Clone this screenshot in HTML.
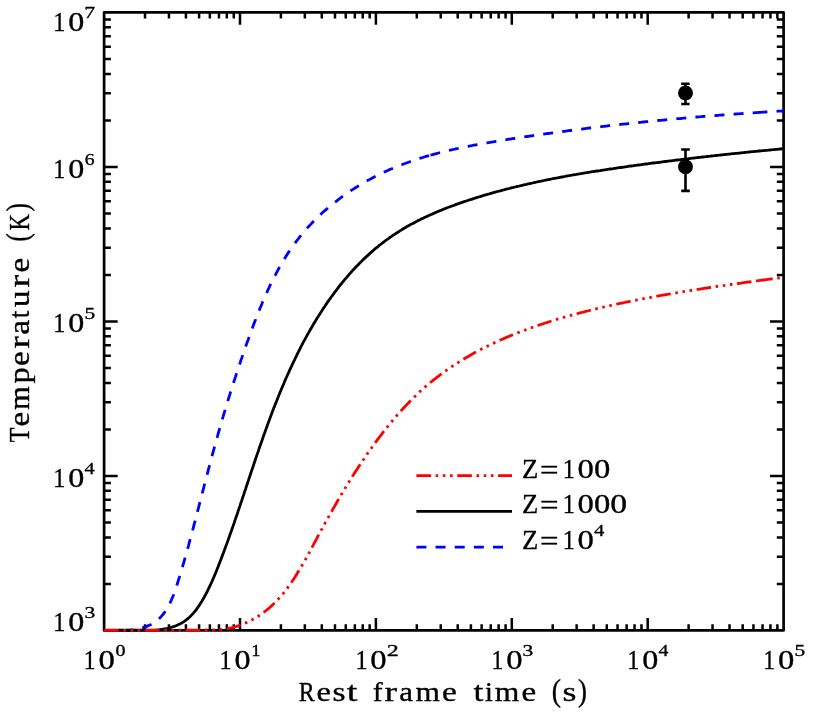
<!DOCTYPE html>
<html><head><meta charset="utf-8"><title>Temperature vs rest frame time</title>
<style>html,body{margin:0;padding:0;background:#fff}svg{display:block;will-change:transform}text{font-family:"Liberation Serif",serif;fill:#000;white-space:pre;stroke:#000;stroke-width:0.35px;stroke-linejoin:round}</style></head><body>
<svg width="814" height="719" viewBox="0 0 814 719">
<desc>Log-log plot of Temperature (K) versus Rest frame time (s) for Z=100 (red dash-dot-dot-dot), Z=1000 (black solid) and Z=10^4 (blue dashed), with two data points with error bars.</desc>
<rect x="0" y="0" width="814" height="719" fill="#fff"/>
<path d="M145.01 630.4v-6.2M145.01 12.4v6.2M168.94 630.4v-6.2M168.94 12.4v6.2M185.92 630.4v-6.2M185.92 12.4v6.2M199.09 630.4v-6.2M199.09 12.4v6.2M209.85 630.4v-6.2M209.85 12.4v6.2M218.95 630.4v-6.2M218.95 12.4v6.2M226.83 630.4v-6.2M226.83 12.4v6.2M233.78 630.4v-6.2M233.78 12.4v6.2M240.00 630.4v-12.4M240.00 12.4v12.4M280.91 630.4v-6.2M280.91 12.4v6.2M304.84 630.4v-6.2M304.84 12.4v6.2M321.82 630.4v-6.2M321.82 12.4v6.2M334.99 630.4v-6.2M334.99 12.4v6.2M345.75 630.4v-6.2M345.75 12.4v6.2M354.85 630.4v-6.2M354.85 12.4v6.2M362.73 630.4v-6.2M362.73 12.4v6.2M369.68 630.4v-6.2M369.68 12.4v6.2M375.90 630.4v-12.4M375.90 12.4v12.4M416.81 630.4v-6.2M416.81 12.4v6.2M440.74 630.4v-6.2M440.74 12.4v6.2M457.72 630.4v-6.2M457.72 12.4v6.2M470.89 630.4v-6.2M470.89 12.4v6.2M481.65 630.4v-6.2M481.65 12.4v6.2M490.75 630.4v-6.2M490.75 12.4v6.2M498.63 630.4v-6.2M498.63 12.4v6.2M505.58 630.4v-6.2M505.58 12.4v6.2M511.80 630.4v-12.4M511.80 12.4v12.4M552.71 630.4v-6.2M552.71 12.4v6.2M576.64 630.4v-6.2M576.64 12.4v6.2M593.62 630.4v-6.2M593.62 12.4v6.2M606.79 630.4v-6.2M606.79 12.4v6.2M617.55 630.4v-6.2M617.55 12.4v6.2M626.65 630.4v-6.2M626.65 12.4v6.2M634.53 630.4v-6.2M634.53 12.4v6.2M641.48 630.4v-6.2M641.48 12.4v6.2M647.70 630.4v-12.4M647.70 12.4v12.4M688.61 630.4v-6.2M688.61 12.4v6.2M712.54 630.4v-6.2M712.54 12.4v6.2M729.52 630.4v-6.2M729.52 12.4v6.2M742.69 630.4v-6.2M742.69 12.4v6.2M753.45 630.4v-6.2M753.45 12.4v6.2M762.55 630.4v-6.2M762.55 12.4v6.2M770.43 630.4v-6.2M770.43 12.4v6.2M777.38 630.4v-6.2M777.38 12.4v6.2M104.1 583.89h6.8M783.6 583.89h-6.8M104.1 556.68h6.8M783.6 556.68h-6.8M104.1 537.38h6.8M783.6 537.38h-6.8M104.1 522.41h6.8M783.6 522.41h-6.8M104.1 510.18h6.8M783.6 510.18h-6.8M104.1 499.83h6.8M783.6 499.83h-6.8M104.1 490.87h6.8M783.6 490.87h-6.8M104.1 482.97h6.8M783.6 482.97h-6.8M104.1 475.90h13.6M783.6 475.90h-13.6M104.1 429.39h6.8M783.6 429.39h-6.8M104.1 402.18h6.8M783.6 402.18h-6.8M104.1 382.88h6.8M783.6 382.88h-6.8M104.1 367.91h6.8M783.6 367.91h-6.8M104.1 355.68h6.8M783.6 355.68h-6.8M104.1 345.33h6.8M783.6 345.33h-6.8M104.1 336.37h6.8M783.6 336.37h-6.8M104.1 328.47h6.8M783.6 328.47h-6.8M104.1 321.40h13.6M783.6 321.40h-13.6M104.1 274.89h6.8M783.6 274.89h-6.8M104.1 247.68h6.8M783.6 247.68h-6.8M104.1 228.38h6.8M783.6 228.38h-6.8M104.1 213.41h6.8M783.6 213.41h-6.8M104.1 201.18h6.8M783.6 201.18h-6.8M104.1 190.83h6.8M783.6 190.83h-6.8M104.1 181.87h6.8M783.6 181.87h-6.8M104.1 173.97h6.8M783.6 173.97h-6.8M104.1 166.90h13.6M783.6 166.90h-13.6M104.1 120.39h6.8M783.6 120.39h-6.8M104.1 93.18h6.8M783.6 93.18h-6.8M104.1 73.88h6.8M783.6 73.88h-6.8M104.1 58.91h6.8M783.6 58.91h-6.8M104.1 46.68h6.8M783.6 46.68h-6.8M104.1 36.33h6.8M783.6 36.33h-6.8M104.1 27.37h6.8M783.6 27.37h-6.8M104.1 19.47h6.8M783.6 19.47h-6.8" stroke="#000" stroke-width="2.5" fill="none"/>
<rect x="104.1" y="12.4" width="679.50" height="618.00" fill="none" stroke="#000" stroke-width="2.7" stroke-linejoin="round"/>
<g fill="none" stroke="#0000ff" stroke-width="2.8" stroke-dasharray="10 9.15">
<path d="M104.1 630.4L105.5 630.4L106.9 630.4L108.4 630.4L109.9 630.4L111.4 630.4L112.9 630.4L114.4 630.4L115.9 630.4L117.4 630.4L119.0 630.4L120.5 630.4L122.1 630.4L123.6 630.4L125.2 630.4L126.8 630.4L128.3 630.3L129.8 630.2L131.4 630.0L132.9 629.8L134.4 629.6L135.9 629.4L137.4 629.1L138.9 628.8L140.4 628.4L141.8 628.0L143.2 627.6L144.6 627.1L146.0 626.6L147.4 626.1L148.7 625.5L150.0 624.9L151.3 624.2L152.5 623.5L153.7 622.8L154.9 622.0L156.1 621.2L157.2 620.3L158.3 619.4L159.3 618.4L160.3 617.5L161.3 616.4L162.2 615.4L163.2 614.3L164.0 613.1L164.9 612.0L165.7 610.8L166.5 609.5L167.2 608.3L168.0 607.0L168.7 605.7L169.4 604.4L170.1 603.0L170.7 601.6L171.3 600.2L171.9 598.8L172.5 597.4L173.1 596.0L173.7 594.5L174.2 593.1L174.7 591.6L175.2 590.2L175.7 588.7L176.2 587.2L176.7 585.7L177.2 584.2L177.7 582.8L178.1 581.3L178.6 579.8L179.0 578.4L179.5 576.9L179.9 575.4L180.4 574.0L180.8 572.5L181.3 571.1L181.7 569.7L182.1 568.2L182.5 566.8L182.9 565.3L183.4 563.9L183.8 562.5L184.2 561.0L184.6 559.6L185.0 558.2L185.4 556.8L185.8 555.3L186.2 553.9L186.6 552.5L187.0 551.1L187.4 549.6L187.8 548.2L188.2 546.8L188.6 545.3L188.9 543.9L189.3 542.5L189.7 541.1L190.1 539.6L190.5 538.2L190.9 536.8L191.3 535.3L191.6 533.9L192.0 532.4L192.4 531.0L192.8 529.6L193.2 528.1L193.6 526.7L193.9 525.2L194.3 523.8L194.7 522.3L195.1 520.9L195.5 519.4L195.8 518.0L196.2 516.5L196.6 515.1L197.0 513.6L197.3 512.2L197.7 510.7L198.1 509.3L198.5 507.8L198.9 506.4L199.2 504.9L199.6 503.5L200.0 502.0L200.4 500.6L200.7 499.1L201.1 497.6L201.5 496.2L201.9 494.7L202.2 493.3L202.6 491.8L203.0 490.4L203.4 488.9L203.8 487.4L204.1 486.0L204.5 484.5L204.9 483.1L205.3 481.6L205.7 480.1L206.0 478.7L206.4 477.2L206.8 475.8L207.2 474.3L207.6 472.8L208.0 471.4L208.3 469.9L208.7 468.5L209.1 467.0L209.5 465.6L209.9 464.1L210.3 462.6L210.6 461.2L211.0 459.7L211.4 458.3L211.8 456.8L212.2 455.4L212.6 453.9L213.0 452.5L213.4 451.0L213.8 449.6L214.2 448.1L214.6 446.7L215.0 445.2L215.4 443.8L215.8 442.3L216.2 440.9L216.6 439.4L217.0 438.0L217.4 436.5L217.8 435.1L218.2 433.6L218.6 432.2L219.0 430.8L219.4 429.3L219.8 427.9L220.2 426.4L220.7 425.0L221.1 423.6L221.5 422.1L221.9 420.7L222.3 419.3L222.7 417.8L223.2 416.4L223.6 415.0L224.0 413.5L224.4 412.1L224.9 410.7L225.3 409.2L225.7 407.8L226.2 406.4L226.6 405.0L227.0 403.5L227.5 402.1L227.9 400.7L228.3 399.3L228.8 397.8L229.2 396.4L229.7 395.0L230.1 393.6L230.5 392.1L231.0 390.7L231.4 389.3L231.9 387.9L232.3 386.5L232.8 385.0L233.3 383.6L233.7 382.2L234.2 380.8L234.6 379.4L235.1 378.0L235.6 376.5L236.0 375.1L236.5 373.7L237.0 372.3L237.4 370.9L237.9 369.4L238.4 368.0L238.8 366.6L239.3 365.2L239.8 363.8L240.3 362.4L240.7 360.9L241.2 359.5L241.7 358.1L242.2 356.7L242.7 355.3L243.2 353.9L243.7 352.4L244.2 351.0L244.7 349.6L245.1 348.2L245.6 346.8L246.1 345.3L246.6 343.9L247.1 342.5L247.7 341.1L248.2 339.7L248.7 338.2L249.2 336.8L249.7 335.4L250.2 334.0L250.7 332.6L251.2 331.1L251.8 329.7L252.3 328.3L252.8 326.9L253.3 325.5L253.9 324.1L254.4 322.6L254.9 321.2L255.5 319.8L256.0 318.4L256.6 317.0L257.1 315.6L257.7 314.2L258.2 312.8L258.8 311.3L259.4 309.9L259.9 308.5L260.5 307.1L261.1 305.7L261.7 304.3L262.2 302.9L262.8 301.5L263.4 300.2L264.0 298.8L264.6 297.4L265.2 296.0L265.8 294.6L266.5 293.2L267.1 291.9L267.7 290.5L268.3 289.1L269.0 287.8L269.6 286.4L270.3 285.0L270.9 283.7L271.6 282.3L272.3 281.0L272.9 279.6L273.6 278.3L274.3 276.9L275.0 275.6L275.7 274.3L276.4 272.9L277.1 271.6L277.8 270.3L278.5 269.0L279.2 267.7L280.0 266.4L280.7 265.1L281.5 263.8L282.2 262.5L283.0 261.2L283.8 259.9L284.5 258.7L285.3 257.4L286.1 256.1L286.9 254.9L287.7 253.6L288.5 252.4L289.4 251.1L290.2 249.9L291.0 248.7L291.9 247.4L292.7 246.2L293.6 245.0L294.5 243.8L295.4 242.6L296.3 241.4L297.2 240.2L298.1 239.1L299.0 237.9L299.9 236.7L300.8 235.6L301.8 234.4L302.7 233.3L303.7 232.1L304.7 231.0L305.7 229.9L306.6 228.7L307.6 227.6L308.6 226.5L309.7 225.4L310.7 224.4L311.7 223.3L312.7 222.2L313.8 221.1L314.8 220.1L315.9 219.0L317.0 218.0L318.0 216.9L319.1 215.9L320.2 214.9L321.3 213.8L322.4 212.8L323.5 211.8L324.6 210.8L325.8 209.8L326.9 208.9L328.0 207.9L329.2 206.9L330.3 206.0L331.5 205.0L332.6 204.1L333.8 203.1L335.0 202.2L336.2 201.3L337.4 200.3L338.6 199.4L339.8 198.5L341.0 197.6L342.2 196.7L343.4 195.9L344.6 195.0L345.8 194.1L347.1 193.3L348.3 192.4L349.6 191.6L350.8 190.7L352.1 189.9L353.3 189.1L354.6 188.3L355.9 187.5L357.2 186.7L358.4 185.9L359.7 185.1L361.0 184.3L362.3 183.6L363.6 182.8L364.9 182.1L366.2 181.3L367.5 180.6L368.8 179.9L370.2 179.1L371.5 178.4L372.8 177.7L374.2 177.0L375.5 176.3L376.8 175.7L378.2 175.0L379.5 174.3L380.9 173.7L382.2 173.0L383.6 172.4L384.9 171.7L386.3 171.1L387.7 170.5L389.0 169.9L390.4 169.3L391.8 168.7L393.2 168.1L394.5 167.5L395.9 167.0L397.3 166.4L398.7 165.8L400.1 165.3L401.5 164.8L402.9 164.2L404.3 163.7L405.7 163.2L407.1 162.7L408.5 162.2L409.9 161.7L411.3 161.2L412.7 160.7L414.1 160.2L415.6 159.7L417.0 159.3L418.4 158.8L419.8 158.4L421.3 157.9L422.7 157.5L424.1 157.0L425.5 156.6L427.0 156.2L428.4 155.8L429.9 155.4L430.4 155.2"/>
<path d="M430.4 155.2L431.3 155.0L432.7 154.6L434.2 154.2L435.6 153.8L437.1 153.4L438.5 153.0L440.0 152.6L441.4 152.3L442.9 151.9L444.3 151.5L445.8 151.2L447.2 150.8L448.7 150.5L450.2 150.2L451.6 149.8L453.1 149.5L454.6 149.2L456.0 148.8L457.5 148.5L459.0 148.2L460.4 147.9L461.9 147.6L463.4 147.3L464.8 147.0L466.3 146.7L467.8 146.4L469.3 146.1L470.7 145.8L472.2 145.5L473.7 145.2L475.2 145.0L476.7 144.7L478.1 144.4L479.6 144.1L481.1 143.9L482.6 143.6L484.1 143.3L485.6 143.1L487.0 142.8L488.5 142.6L490.0 142.3L491.5 142.1L493.0 141.8L494.5 141.6L496.0 141.3L497.4 141.1L498.9 140.8L500.4 140.6L501.9 140.4L503.4 140.1L504.9 139.9L506.4 139.7L507.9 139.4L509.3 139.2L510.8 139.0L512.3 138.7L513.8 138.5L515.3 138.3L516.8 138.0L518.3 137.8L519.8 137.6L521.2 137.4L522.7 137.1L524.2 136.9L525.7 136.7L527.2 136.5L528.7 136.3L530.2 136.0L531.6 135.8L533.1 135.6L534.6 135.4L536.1 135.2L537.6 135.0L539.1 134.7L540.6 134.5L542.1 134.3L543.5 134.1L545.0 133.9L546.5 133.7L548.0 133.5L549.5 133.3L551.0 133.1L552.5 132.9L553.9 132.7L555.4 132.5L556.9 132.3L558.4 132.1L559.9 131.9L561.4 131.7L562.9 131.5L564.4 131.3L565.8 131.1L567.3 130.9L568.8 130.7L570.3 130.5L571.8 130.3L573.3 130.1L574.8 129.9L576.2 129.7L577.7 129.5L579.2 129.3L580.7 129.1L582.2 129.0L583.7 128.8L585.2 128.6L586.6 128.4L588.1 128.2L589.6 128.0L591.1 127.9L592.6 127.7L594.1 127.5L595.6 127.3L597.1 127.1L598.5 127.0L600.0 126.8L601.5 126.6L603.0 126.4L604.5 126.3L606.0 126.1L607.5 125.9L608.9 125.7L610.4 125.6L611.9 125.4L613.4 125.2L614.9 125.1L616.4 124.9L617.9 124.7L619.4 124.6L620.8 124.4L622.3 124.2L623.8 124.1L625.3 123.9L626.8 123.8L628.3 123.6L629.8 123.4L631.3 123.3L632.7 123.1L634.2 123.0L635.7 122.8L637.2 122.6L638.7 122.5L640.2 122.3L641.7 122.2L643.2 122.0L644.6 121.9L646.1 121.7L647.6 121.6L649.1 121.4L650.6 121.3L652.1 121.1L653.6 121.0L655.1 120.8L656.6 120.7L658.1 120.5L659.5 120.4L661.0 120.3L662.5 120.1L664.0 120.0L665.5 119.8L667.0 119.7L668.5 119.6L670.0 119.4L671.5 119.3L673.0 119.1L674.4 119.0L675.9 118.9L677.4 118.7L678.9 118.6L680.4 118.5L681.9 118.3L683.4 118.2L684.9 118.1L686.4 117.9L687.9 117.8L689.4 117.7L690.9 117.5L692.3 117.4L693.8 117.3L695.3 117.2L696.8 117.0L698.3 116.9L699.8 116.8L701.3 116.7L702.8 116.5L704.3 116.4L705.8 116.3L707.3 116.2L708.8 116.1L710.3 115.9L711.8 115.8L713.3 115.7L714.7 115.6L716.2 115.5L717.7 115.4L719.2 115.2L720.7 115.1L722.2 115.0L723.7 114.9L725.2 114.8L726.7 114.7L728.2 114.6L729.7 114.5L731.2 114.3L732.7 114.2L734.2 114.1L735.7 114.0L737.2 113.9L738.7 113.8L740.2 113.7L741.7 113.6L743.2 113.5L744.7 113.4L746.2 113.3L747.7 113.2L749.2 113.1L750.7 113.0L752.2 112.9L753.7 112.8L755.2 112.7L756.7 112.6L757.7 112.5"/>
<path d="M757.4 112.5L758.2 112.5L759.7 112.4L761.2 112.3L762.7 112.2L764.2 112.1L765.7 112.0L767.2 111.9L768.7 111.8L770.2 111.7L771.7 111.6L773.2 111.5L774.7 111.4L776.2 111.3L777.7 111.2L779.2 111.2L780.7 111.1L782.2 111.0L783.6 110.9"/>
</g>
<path d="M104.1 630.4L105.4 630.3L106.8 630.2L108.1 630.2L109.5 630.1L110.9 630.1L112.3 630.1L113.8 630.1L115.2 630.1L116.7 630.1L118.2 630.1L119.7 630.1L121.2 630.1L122.7 630.1L124.2 630.1L125.7 630.1L127.3 630.1L128.8 630.1L130.4 630.1L132.0 630.1L133.5 630.1L135.1 630.1L136.7 630.1L138.3 630.1L139.8 630.1L141.4 630.1L143.0 630.1L144.6 630.1L146.2 630.1L147.7 630.1L149.3 630.1L150.9 630.1L152.4 630.1L154.0 630.1L155.5 630.1L157.1 630.0L158.6 629.9L160.1 629.7L161.6 629.5L163.1 629.2L164.6 628.9L166.1 628.7L167.5 628.3L169.0 628.0L170.4 627.6L171.8 627.2L173.2 626.7L174.5 626.3L175.9 625.8L177.2 625.2L178.5 624.6L179.8 624.0L181.1 623.3L182.3 622.6L183.5 621.9L184.7 621.1L185.8 620.2L187.0 619.3L188.1 618.4L189.2 617.5L190.2 616.5L191.2 615.4L192.3 614.4L193.2 613.3L194.2 612.1L195.2 611.0L196.1 609.8L197.0 608.6L197.9 607.4L198.7 606.1L199.6 604.9L200.4 603.6L201.2 602.3L202.0 601.0L202.8 599.6L203.6 598.3L204.3 597.0L205.0 595.6L205.8 594.3L206.5 592.9L207.2 591.5L207.9 590.2L208.5 588.8L209.2 587.5L209.8 586.1L210.5 584.7L211.1 583.3L211.7 582.0L212.3 580.6L213.0 579.2L213.5 577.8L214.1 576.5L214.7 575.1L215.3 573.7L215.9 572.3L216.4 570.9L217.0 569.5L217.5 568.1L218.1 566.7L218.6 565.3L219.2 563.9L219.7 562.5L220.3 561.1L220.8 559.7L221.3 558.3L221.9 556.9L222.4 555.5L222.9 554.1L223.5 552.7L224.0 551.3L224.5 549.9L225.0 548.5L225.5 547.1L226.0 545.7L226.6 544.3L227.1 542.9L227.6 541.5L228.1 540.1L228.6 538.7L229.1 537.3L229.6 535.8L230.1 534.4L230.6 533.0L231.1 531.6L231.6 530.2L232.1 528.8L232.6 527.4L233.1 525.9L233.6 524.5L234.1 523.1L234.5 521.7L235.0 520.3L235.5 518.9L236.0 517.4L236.5 516.0L237.0 514.6L237.5 513.2L237.9 511.8L238.4 510.3L238.9 508.9L239.4 507.5L239.9 506.1L240.3 504.6L240.8 503.2L241.3 501.8L241.8 500.4L242.2 499.0L242.7 497.5L243.2 496.1L243.7 494.7L244.1 493.3L244.6 491.8L245.1 490.4L245.6 489.0L246.0 487.6L246.5 486.1L247.0 484.7L247.5 483.3L247.9 481.9L248.4 480.5L248.9 479.0L249.3 477.6L249.8 476.2L250.3 474.8L250.8 473.3L251.2 471.9L251.7 470.5L252.2 469.1L252.7 467.6L253.2 466.2L253.6 464.8L254.1 463.4L254.6 462.0L255.1 460.5L255.5 459.1L256.0 457.7L256.5 456.3L257.0 454.9L257.5 453.4L258.0 452.0L258.5 450.6L258.9 449.2L259.4 447.8L259.9 446.3L260.4 444.9L260.9 443.5L261.4 442.1L261.9 440.7L262.4 439.3L262.9 437.9L263.4 436.4L263.9 435.0L264.4 433.6L264.9 432.2L265.4 430.8L265.9 429.4L266.4 428.0L266.9 426.6L267.4 425.2L267.9 423.7L268.5 422.3L269.0 420.9L269.5 419.5L270.0 418.1L270.5 416.7L271.1 415.3L271.6 413.9L272.1 412.5L272.7 411.1L273.2 409.7L273.7 408.3L274.3 406.9L274.8 405.5L275.4 404.1L275.9 402.7L276.5 401.3L277.0 400.0L277.6 398.6L278.1 397.2L278.7 395.8L279.2 394.4L279.8 393.0L280.4 391.6L280.9 390.2L281.5 388.9L282.1 387.5L282.7 386.1L283.3 384.7L283.9 383.3L284.4 382.0L285.0 380.6L285.6 379.2L286.2 377.8L286.8 376.5L287.4 375.1L288.1 373.7L288.7 372.4L289.3 371.0L289.9 369.6L290.5 368.3L291.2 366.9L291.8 365.6L292.4 364.2L293.1 362.8L293.7 361.5L294.4 360.1L295.0 358.8L295.7 357.4L296.3 356.1L297.0 354.7L297.6 353.4L298.3 352.1L299.0 350.7L299.7 349.4L300.4 348.0L301.0 346.7L301.7 345.4L302.4 344.0L303.1 342.7L303.8 341.4L304.6 340.0L305.3 338.7L306.0 337.4L306.7 336.1L307.4 334.8L308.2 333.4L308.9 332.1L309.7 330.8L310.4 329.5L311.2 328.2L311.9 326.9L312.7 325.6L313.4 324.3L314.2 323.0L315.0 321.7L315.8 320.4L316.6 319.1L317.4 317.8L318.2 316.5L319.0 315.3L319.8 314.0L320.6 312.7L321.4 311.4L322.2 310.2L323.0 308.9L323.9 307.7L324.7 306.4L325.5 305.2L326.4 303.9L327.2 302.7L328.1 301.4L329.0 300.2L329.8 299.0L330.7 297.7L331.6 296.5L332.5 295.3L333.4 294.1L334.3 292.9L335.2 291.7L336.1 290.5L337.0 289.3L337.9 288.1L338.8 286.9L339.7 285.7L340.7 284.5L341.6 283.4L342.6 282.2L343.5 281.1L344.5 279.9L345.4 278.8L346.4 277.6L347.4 276.5L348.4 275.3L349.3 274.2L350.3 273.1L351.3 272.0L352.3 270.9L353.3 269.8L354.3 268.7L355.4 267.6L356.4 266.5L357.4 265.4L358.5 264.4L359.5 263.3L360.6 262.3L361.6 261.2L362.7 260.2L363.7 259.1L364.8 258.1L365.9 257.1L367.0 256.1L368.1 255.1L369.2 254.1L370.3 253.1L371.4 252.1L372.5 251.1L373.6 250.1L374.7 249.2L375.9 248.2L377.0 247.3L378.2 246.3L379.3 245.4L380.5 244.5L381.7 243.6L382.8 242.7L384.0 241.8L385.2 240.9L386.4 240.0L387.6 239.1L388.8 238.3L390.0 237.4L391.2 236.6L392.5 235.7L393.7 234.9L394.9 234.1L396.2 233.3L397.4 232.4L398.7 231.7L399.9 230.9L401.2 230.1L402.5 229.3L403.8 228.5L405.0 227.8L406.3 227.0L407.6 226.3L408.9 225.6L410.2 224.8L411.6 224.1L412.9 223.4L414.2 222.7L415.5 222.0L416.9 221.3L418.2 220.6L419.5 220.0L420.9 219.3L422.2 218.6L423.6 218.0L424.9 217.3L426.3 216.7L427.7 216.1L429.0 215.4L430.4 214.8L431.8 214.2L433.2 213.6L434.5 213.0L435.9 212.4L437.3 211.8L438.7 211.2L440.1 210.6L441.5 210.1L442.9 209.5L444.3 208.9L445.7 208.4L447.1 207.8L448.5 207.3L450.0 206.7L451.4 206.2L452.8 205.7L454.2 205.2L455.6 204.6L457.1 204.1L458.5 203.6L459.9 203.1L461.4 202.6L462.8 202.1L464.2 201.6L465.7 201.2L467.1 200.7L468.5 200.2L470.0 199.7L471.4 199.3L472.9 198.8L474.3 198.3L475.8 197.9L477.2 197.4L478.7 197.0L480.1 196.6L481.5 196.1L483.0 195.7L484.4 195.2L485.9 194.8L487.3 194.4L488.8 194.0L490.2 193.6L491.7 193.2L493.1 192.7L494.6 192.3L496.0 191.9L497.5 191.5L498.9 191.1L500.4 190.8L501.8 190.4L503.3 190.0L504.7 189.6L506.2 189.2L507.6 188.8L509.1 188.5L510.6 188.1L512.0 187.7L513.5 187.4L514.9 187.0L516.4 186.7L517.8 186.3L519.3 186.0L520.7 185.6L522.2 185.3L523.7 184.9L525.1 184.6L526.6 184.3L528.0 183.9L529.5 183.6L531.0 183.3L532.4 183.0L533.9 182.6L535.3 182.3L536.8 182.0L538.3 181.7L539.7 181.4L541.2 181.1L542.7 180.8L544.1 180.5L545.6 180.2L547.0 179.9L548.5 179.6L550.0 179.3L551.4 179.0L552.9 178.7L554.4 178.4L555.8 178.1L557.3 177.9L558.8 177.6L560.2 177.3L561.7 177.0L563.2 176.8L564.6 176.5L566.1 176.2L567.6 175.9L569.1 175.7L570.5 175.4L572.0 175.2L573.5 174.9L574.9 174.6L576.4 174.4L577.9 174.1L579.4 173.9L580.8 173.6L582.3 173.4L583.8 173.1L585.2 172.9L586.7 172.7L588.2 172.4L589.7 172.2L591.1 171.9L592.6 171.7L594.1 171.5L595.6 171.2L597.1 171.0L598.5 170.8L600.0 170.6L601.5 170.3L603.0 170.1L604.4 169.9L605.9 169.7L607.4 169.4L608.9 169.2L610.4 169.0L611.8 168.8L613.3 168.6L614.8 168.3L616.3 168.1L617.8 167.9L619.2 167.7L620.7 167.5L622.2 167.3L623.7 167.1L625.2 166.9L626.7 166.7L628.1 166.4L629.6 166.2L631.1 166.0L632.6 165.8L634.1 165.6L635.6 165.4L637.1 165.2L638.5 165.0L640.0 164.8L641.5 164.6L643.0 164.4L644.5 164.2L646.0 164.0L647.5 163.8L649.0 163.6L650.4 163.4L651.9 163.2L653.4 163.0L654.9 162.8L656.4 162.6L657.9 162.5L659.4 162.3L660.9 162.1L662.4 161.9L663.9 161.7L665.3 161.5L666.8 161.3L668.3 161.1L669.8 160.9L671.3 160.8L672.8 160.6L674.3 160.4L675.8 160.2L677.3 160.0L678.8 159.8L680.3 159.7L681.8 159.5L683.3 159.3L684.7 159.1L686.2 158.9L687.7 158.8L689.2 158.6L690.7 158.4L692.2 158.2L693.7 158.1L695.2 157.9L696.7 157.7L698.2 157.5L699.7 157.4L701.2 157.2L702.7 157.0L704.2 156.8L705.7 156.7L707.2 156.5L708.6 156.3L710.1 156.2L711.6 156.0L713.1 155.8L714.6 155.7L716.1 155.5L717.6 155.3L719.1 155.2L720.6 155.0L722.1 154.9L723.6 154.7L725.1 154.5L726.6 154.4L728.1 154.2L729.6 154.1L731.1 153.9L732.5 153.7L734.0 153.6L735.5 153.4L737.0 153.3L738.5 153.1L740.0 153.0L741.5 152.8L743.0 152.6L744.5 152.5L746.0 152.3L747.5 152.2L749.0 152.0L750.5 151.9L751.9 151.7L753.4 151.6L754.9 151.4L756.4 151.3L757.9 151.1L759.4 151.0L760.9 150.9L762.4 150.7L763.9 150.6L765.4 150.4L766.9 150.3L768.3 150.1L769.8 150.0L771.3 149.8L772.8 149.7L774.3 149.6L775.8 149.4L777.3 149.3L778.8 149.1L780.2 149.0L781.7 148.9L783.2 148.7L783.6 148.7" fill="none" stroke="#000" stroke-width="2.8"/>
<g fill="none" stroke="#ff0000" stroke-width="2.8" stroke-dasharray="14.63 4.6 2.6 4.6 2.6 4.6 2.6 4.6">
<path d="M104.1 630.4L105.6 630.4L107.1 630.4L108.6 630.4L110.2 630.4L111.7 630.4L113.2 630.3L114.7 630.3L116.2 630.3L117.7 630.3L119.2 630.3L120.7 630.3L122.2 630.3L123.7 630.3L125.2 630.3L126.7 630.3L128.2 630.3L129.7 630.3L131.2 630.3L132.7 630.3L134.2 630.3L135.7 630.3L137.2 630.3L138.7 630.3L140.2 630.3L141.7 630.3L143.1 630.3L144.6 630.3L146.1 630.3L147.6 630.3L149.1 630.3L150.6 630.3L152.1 630.3L153.6 630.3L155.1 630.3L156.6 630.3L158.1 630.3L159.6 630.3L161.0 630.3L162.5 630.3L164.0 630.3L165.5 630.3L167.0 630.3L168.5 630.3L170.0 630.3L171.5 630.3L173.0 630.3L174.5 630.2L176.0 630.2L177.5 630.2L179.0 630.2L180.5 630.2L182.0 630.2L183.5 630.2L185.0 630.2L186.5 630.2L188.0 630.2L189.5 630.2L191.0 630.2L192.5 630.2L194.0 630.1L195.5 630.1L197.0 630.1L198.5 630.1L200.0 630.1L201.5 630.1L203.0 630.1L204.6 630.0L206.1 630.0L207.6 630.0L209.1 630.0L210.6 629.9L212.2 629.9L213.7 629.8L215.2 629.8L216.7 629.7L218.2 629.6L219.7 629.5L221.2 629.4L222.7 629.2L224.2 629.0L225.7 628.8L227.2 628.6L228.7 628.3L230.1 628.0L231.6 627.7L233.1 627.3L234.5 626.9L236.0 626.5L237.4 626.1L238.8 625.6L240.2 625.1L241.6 624.6L243.0 624.1L244.4 623.5L245.8 622.9L247.2 622.3L248.5 621.6L249.9 621.0L251.2 620.3L252.5 619.6L253.8 618.9L255.1 618.1L256.4 617.4L257.6 616.6L258.9 615.8L260.1 614.9L261.4 614.1L262.6 613.2L263.8 612.3L264.9 611.5L266.1 610.5L267.2 609.6L268.4 608.7L269.5 607.7L270.6 606.7L271.7 605.7L272.7 604.7L273.8 603.7L274.8 602.7L275.9 601.6L276.9 600.6L277.9 599.5L278.9 598.4L279.9 597.3L280.9 596.2L281.8 595.1L282.8 593.9L283.7 592.8L284.6 591.6L285.6 590.5L286.5 589.3L287.4 588.1L288.2 586.9L289.1 585.7L290.0 584.5L290.8 583.2L291.7 582.0L292.5 580.8L293.4 579.5L294.2 578.2L295.0 577.0L295.8 575.7L296.6 574.4L297.4 573.1L298.2 571.8L299.0 570.5L299.8 569.2L300.6 567.9L301.3 566.6L302.1 565.3L302.9 564.0L303.6 562.7L304.4 561.3L305.1 560.0L305.9 558.7L306.6 557.3L307.3 556.0L308.1 554.7L308.8 553.3L309.5 552.0L310.2 550.6L311.0 549.3L311.7 548.0L312.4 546.6L313.1 545.3L313.8 543.9L314.5 542.6L315.3 541.2L316.0 539.9L316.7 538.6L317.4 537.2L318.1 535.9L318.8 534.6L319.6 533.2L320.3 531.9L321.0 530.6L321.7 529.3L322.4 528.0L323.2 526.6L323.9 525.3L324.6 524.0L325.3 522.7L326.0 521.4L326.8 520.1L327.5 518.8L328.2 517.5L328.9 516.2L329.7 514.9L330.4 513.6L331.1 512.3L331.9 511.0L332.6 509.7L333.3 508.4L334.1 507.1L334.8 505.8L335.5 504.5L336.3 503.2L337.0 501.9L337.8 500.6L338.5 499.4L339.3 498.1L340.0 496.8L340.8 495.5L341.5 494.2L342.3 493.0L343.0 491.7L343.8 490.4L344.6 489.2L345.3 487.9L346.1 486.6L346.9 485.4L347.6 484.1L348.4 482.8L349.2 481.6L350.0 480.3L350.8 479.0L351.6 477.8L352.3 476.5L353.1 475.3L353.9 474.0L354.7 472.8L355.5 471.5L356.3 470.3L357.2 469.0L358.0 467.8L358.8 466.5L359.6 465.3L360.4 464.0L361.3 462.8L362.1 461.6L362.9 460.3L363.8 459.1L364.6 457.8L365.4 456.6L366.3 455.4L367.1 454.1L368.0 452.9L368.9 451.7L369.7 450.4L370.6 449.2L371.5 448.0L372.4 446.7L373.2 445.5L374.1 444.3L375.0 443.1L375.9 441.8L376.8 440.6L377.7 439.4L378.6 438.2L379.5 437.0L380.4 435.8L381.4 434.6L382.3 433.4L383.2 432.2L384.1 431.0L385.1 429.8L386.0 428.6L387.0 427.4L387.9 426.2L388.9 425.0L389.8 423.9L390.8 422.7L391.8 421.5L392.7 420.4L393.7 419.2L394.7 418.0L395.7 416.9L396.7 415.7L397.7 414.6L398.7 413.5L399.7 412.3L400.7 411.2L401.7 410.1L402.7 409.0L403.8 407.8L404.8 406.7L405.8 405.6L406.9 404.5L407.9 403.4L409.0 402.4L410.0 401.3L411.1 400.2L412.1 399.1L413.2 398.1L414.3 397.0L415.4 396.0L416.5 394.9L417.5 393.9L418.6 392.9L419.7 391.8L420.8 390.8L421.9 389.8L423.1 388.8L424.2 387.8L425.3 386.8L426.4 385.8L427.6 384.9L428.7 383.9L429.9 383.0L431.0 382.0L432.2 381.1L433.3 380.1L434.5 379.2L435.7 378.3L436.8 377.4L438.0 376.5L439.2 375.6L440.4 374.7L441.6 373.8L442.8 372.9L444.0 372.0L445.2 371.2L446.4 370.3L447.6 369.4L448.8 368.6L450.1 367.8L451.3 366.9L452.5 366.1L453.8 365.3L455.0 364.5L456.3 363.7L457.5 362.9L458.8 362.1L460.0 361.3L461.3 360.5L462.6 359.7L463.8 359.0L465.1 358.2L466.4 357.4L467.7 356.7L469.0 356.0L470.2 355.2L471.5 354.5L472.8 353.8L474.1 353.0L475.4 352.3L476.8 351.6L478.1 350.9L479.4 350.2L480.7 349.5L482.0 348.8L483.4 348.2L484.7 347.5L486.0 346.8L487.3 346.2L488.7 345.5L490.0 344.9L491.4 344.2L492.7 343.6L494.1 342.9L495.4 342.3L496.8 341.7L498.1 341.1L499.5 340.4L500.9 339.8L502.2 339.2L503.6 338.6L505.0 338.0L506.4 337.4L507.7 336.9L509.1 336.3L510.5 335.7L511.9 335.1L513.3 334.6L514.7 334.0L516.1 333.5L517.5 332.9L518.9 332.4L520.3 331.8L521.7 331.3L523.1 330.8L524.5 330.2L525.9 329.7L527.3 329.2L528.7 328.7L530.1 328.2L531.6 327.7L533.0 327.2L534.4 326.7L535.8 326.2L537.2 325.7L538.7 325.2L540.1 324.7L541.5 324.2L543.0 323.8L544.4 323.3L545.8 322.8L547.3 322.4L548.7 321.9L550.1 321.5L551.6 321.0L553.0 320.6L554.5 320.1L555.9 319.7L557.4 319.2L558.8 318.8L560.3 318.4L561.7 318.0L563.2 317.5L564.6 317.1L566.1 316.7L567.5 316.3L569.0 315.9L570.4 315.5L571.9 315.1L573.3 314.7L574.8 314.3L576.3 313.9L577.7 313.5L579.2 313.1L580.6 312.7L582.1 312.4L583.6 312.0L585.0 311.6L586.5 311.2L587.9 310.9L589.4 310.5L590.9 310.2L592.3 309.8L593.8 309.4L595.3 309.1L596.7 308.7L598.2 308.4L599.7 308.0L601.1 307.7L602.6 307.3L604.0 307.0L605.5 306.7L607.0 306.3L608.4 306.0L609.9 305.7L611.4 305.3L612.8 305.0L614.3 304.7L615.8 304.4L617.2 304.0L618.7 303.7L620.2 303.4L621.6 303.1L623.1 302.8L624.6 302.5L626.0 302.2L627.5 301.9L629.0 301.6L630.4 301.3L631.9 301.0L633.4 300.7L634.8 300.4L636.3 300.1L637.8 299.8L639.2 299.5L640.7 299.2L642.2 298.9L643.6 298.7L645.1 298.4L646.6 298.1L648.0 297.8L649.5 297.6L651.0 297.3L652.5 297.0L653.9 296.7L655.4 296.5L656.9 296.2L658.3 295.9L659.8 295.7L661.3 295.4L662.7 295.2L664.2 294.9L665.7 294.6L667.2 294.4L668.6 294.1L670.1 293.9L671.6 293.6L673.0 293.4L674.5 293.1L676.0 292.9L677.5 292.6L678.9 292.4L680.4 292.1L681.9 291.9L683.4 291.7L684.8 291.4L686.3 291.2L687.8 290.9L689.3 290.7L690.7 290.5L692.2 290.2L693.7 290.0L695.2 289.8L696.6 289.6L698.1 289.3L699.6 289.1L701.1 288.9L702.5 288.6L704.0 288.4L705.5 288.2L707.0 288.0L708.5 287.7L709.9 287.5L711.4 287.3L712.9 287.1L714.4 286.9L715.9 286.7L717.3 286.4L718.8 286.2L720.3 286.0L721.8 285.8L723.3 285.6L724.7 285.4L726.2 285.2L727.7 284.9L729.2 284.7L730.7 284.5L732.2 284.3L733.6 284.1L735.1 283.9L736.6 283.7L738.1 283.5L739.6 283.3L741.1 283.1L742.5 282.8L744.0 282.6L745.5 282.4L747.0 282.2L748.5 282.0L750.0 281.8L751.5 281.6L753.0 281.4L754.4 281.2L755.9 281.0L757.4 280.8L758.5 280.7"/>
<path d="M758.2 280.7L758.9 280.6L760.4 280.4L761.9 280.2L763.4 280.0L764.9 279.8L766.4 279.6L767.9 279.4L769.4 279.2L770.8 279.0L772.3 278.8L773.8 278.6L775.3 278.4L776.8 278.2L778.3 278.0L779.8 277.8"/>
</g>
<g stroke="#000" stroke-width="2.6" fill="none">
<path d="M685.5 83.8V104M681.2 83.8h8.4M681.2 104h8.4"/>
<path d="M685.5 149.5V190.9M681.2 149.5h8.6M681.2 190.9h8.6"/>
</g>
<circle cx="685.5" cy="92.9" r="7.45" fill="#000"/>
<circle cx="685.5" cy="166.8" r="7.45" fill="#000"/>
<path d="M416.4 475.6H512" stroke="#ff0000" stroke-width="2.8" stroke-dasharray="14.63 4.6 2.6 4.6 2.6 4.6 2.6 4.6" fill="none"/>
<path d="M416.4 511.4H512" stroke="#000" stroke-width="2.8" fill="none"/>
<path d="M416.4 547.1H512" stroke="#0000ff" stroke-width="2.8" stroke-dasharray="10 9.15" fill="none"/>
<text id="yl7b0" transform="translate(53.23 31.00) scale(0.8552 1.0000)" font-size="28.30" letter-spacing="0.00">1</text>
<text id="yl7b1" transform="translate(68.24 31.00) scale(1.1345 1.0000)" font-size="28.30" letter-spacing="0.00">0</text>
<text id="yl7s" transform="translate(84.26 18.10) scale(1.2368 1.0000)" font-size="17.60" letter-spacing="0.00">7</text>
<text id="yl6b0" transform="translate(53.23 177.80) scale(0.8552 1.0000)" font-size="28.30" letter-spacing="0.00">1</text>
<text id="yl6b1" transform="translate(68.24 177.80) scale(1.1345 1.0000)" font-size="28.30" letter-spacing="0.00">0</text>
<text id="yl6s" transform="translate(84.83 164.90) scale(1.1158 1.0000)" font-size="17.60" letter-spacing="0.00">6</text>
<text id="yl5b0" transform="translate(53.23 332.30) scale(0.8552 1.0000)" font-size="28.30" letter-spacing="0.00">1</text>
<text id="yl5b1" transform="translate(68.24 332.30) scale(1.1345 1.0000)" font-size="28.30" letter-spacing="0.00">0</text>
<text id="yl5s" transform="translate(84.53 319.40) scale(1.2162 1.0000)" font-size="17.60" letter-spacing="0.00">5</text>
<text id="yl4b0" transform="translate(53.23 486.70) scale(0.8552 1.0000)" font-size="28.30" letter-spacing="0.00">1</text>
<text id="yl4b1" transform="translate(68.24 486.70) scale(1.1345 1.0000)" font-size="28.30" letter-spacing="0.00">0</text>
<text id="yl4s" transform="translate(84.52 473.80) scale(1.1551 1.0000)" font-size="17.60" letter-spacing="0.00">4</text>
<text id="yl3b0" transform="translate(53.23 631.20) scale(0.8552 1.0000)" font-size="28.30" letter-spacing="0.00">1</text>
<text id="yl3b1" transform="translate(68.24 631.20) scale(1.1345 1.0000)" font-size="28.30" letter-spacing="0.00">0</text>
<text id="yl3s" transform="translate(84.51 618.30) scale(1.2250 1.0000)" font-size="17.60" letter-spacing="0.00">3</text>
<text id="xl0b0" transform="translate(83.79 668.75) scale(0.8314 1.0000)" font-size="28.30" letter-spacing="0.00">1</text>
<text id="xl0b1" transform="translate(98.48 668.75) scale(1.1544 1.0000)" font-size="28.30" letter-spacing="0.00">0</text>
<text id="xl0s" transform="translate(115.56 656.00) scale(1.1349 1.0000)" font-size="17.60" letter-spacing="0.00">0</text>
<text id="xl1b0" transform="translate(219.48 668.75) scale(0.8552 1.0000)" font-size="28.30" letter-spacing="0.00">1</text>
<text id="xl1b1" transform="translate(234.49 668.75) scale(1.1345 1.0000)" font-size="28.30" letter-spacing="0.00">0</text>
<text id="xl1s" transform="translate(251.28 656.00) scale(1.0534 1.0000)" font-size="17.60" letter-spacing="0.00">1</text>
<text id="xl2b0" transform="translate(355.48 668.75) scale(0.8559 1.0000)" font-size="28.30" letter-spacing="0.00">1</text>
<text id="xl2b1" transform="translate(370.23 668.75) scale(1.1551 1.0000)" font-size="28.30" letter-spacing="0.00">0</text>
<text id="xl2s" transform="translate(386.67 656.00) scale(1.3719 1.0000)" font-size="17.60" letter-spacing="0.00">2</text>
<text id="xl3b0" transform="translate(491.54 668.75) scale(0.8314 1.0000)" font-size="28.30" letter-spacing="0.00">1</text>
<text id="xl3b1" transform="translate(506.23 668.75) scale(1.1544 1.0000)" font-size="28.30" letter-spacing="0.00">0</text>
<text id="xl3s" transform="translate(522.52 656.00) scale(1.2241 1.0000)" font-size="17.60" letter-spacing="0.00">3</text>
<text id="xl4b0" transform="translate(627.24 668.75) scale(0.8552 1.0000)" font-size="28.30" letter-spacing="0.00">1</text>
<text id="xl4b1" transform="translate(642.24 668.75) scale(1.1352 1.0000)" font-size="28.30" letter-spacing="0.00">0</text>
<text id="xl4s" transform="translate(658.51 656.00) scale(1.1282 1.0000)" font-size="17.60" letter-spacing="0.00">4</text>
<text id="xl5b0" transform="translate(763.29 668.75) scale(0.8314 1.0000)" font-size="28.30" letter-spacing="0.00">1</text>
<text id="xl5b1" transform="translate(777.98 668.75) scale(1.1544 1.0000)" font-size="28.30" letter-spacing="0.00">0</text>
<text id="xl5s" transform="translate(794.53 656.00) scale(1.2162 1.0000)" font-size="17.60" letter-spacing="0.00">5</text>
<text id="xg0" transform="translate(298.75 701.30) scale(0.8437 1.0000)" font-size="28.30" letter-spacing="0.00">R</text>
<text id="xg1" transform="translate(316.55 701.30) scale(1.1500 1.0000)" font-size="28.30" letter-spacing="0.00">e</text>
<text id="xg2" transform="translate(332.51 701.30) scale(1.1831 1.0000)" font-size="28.30" letter-spacing="0.00">s</text>
<text id="xg3" transform="translate(346.79 701.30) scale(1.3611 1.0000)" font-size="28.30" letter-spacing="0.00">t</text>
<text id="xg4" transform="translate(372.87 701.30) scale(1.0493 1.0000)" font-size="28.30" letter-spacing="0.00">f</text>
<text id="xg5" transform="translate(384.46 701.30) scale(1.3297 1.0000)" font-size="28.30" letter-spacing="0.00">r</text>
<text id="xg6" transform="translate(399.35 701.30) scale(1.0898 1.0000)" font-size="28.30" letter-spacing="0.00">a</text>
<text id="xg7" transform="translate(415.56 701.30) scale(1.1125 1.0000)" font-size="28.30" letter-spacing="0.00">m</text>
<text id="xg8" transform="translate(442.02 701.30) scale(1.1824 1.0000)" font-size="28.30" letter-spacing="0.00">e</text>
<text id="xg9" transform="translate(473.54 701.30) scale(1.2526 1.0000)" font-size="28.30" letter-spacing="0.00">t</text>
<text id="xg10" transform="translate(485.11 701.30) scale(0.9971 1.0000)" font-size="28.30" letter-spacing="0.00">i</text>
<text id="xg11" transform="translate(494.81 701.30) scale(1.1172 1.0000)" font-size="28.30" letter-spacing="0.00">m</text>
<text id="xg12" transform="translate(521.52 701.30) scale(1.1695 1.0000)" font-size="28.30" letter-spacing="0.00">e</text>
<text id="xt3" transform="translate(551.77 701.28) scale(0.9804 1.0959)" font-size="28.30" letter-spacing="0.00">(</text>
<text id="xt4" transform="translate(562.58 701.30) scale(1.2659 1.0000)" font-size="28.30" letter-spacing="0.00">s</text>
<text id="xt5" transform="translate(578.04 701.28) scale(0.9424 1.0959)" font-size="28.30" letter-spacing="0.00">)</text>
<text id="yt0" transform="translate(28.75 442.19) rotate(-90) scale(0.8491 1.0450)" font-size="28.30" letter-spacing="0.00">T</text>
<text id="yg0" transform="translate(28.75 426.42) rotate(-90) scale(1.1634 1.0450)" font-size="28.30" letter-spacing="0.00">e</text>
<text id="yg1" transform="translate(28.75 409.89) rotate(-90) scale(1.0824 1.0450)" font-size="28.30" letter-spacing="0.00">m</text>
<text id="yg2" transform="translate(28.75 383.43) rotate(-90) scale(1.1575 1.0450)" font-size="28.30" letter-spacing="0.00">p</text>
<text id="yg3" transform="translate(28.75 365.93) rotate(-90) scale(1.1730 1.0450)" font-size="28.30" letter-spacing="0.00">e</text>
<text id="yg4" transform="translate(28.75 348.51) rotate(-90) scale(1.3207 1.0450)" font-size="28.30" letter-spacing="0.00">r</text>
<text id="yg5" transform="translate(28.75 334.70) rotate(-90) scale(1.1958 1.0450)" font-size="28.30" letter-spacing="0.00">a</text>
<text id="yg6" transform="translate(28.75 318.18) rotate(-90) scale(0.9668 1.0450)" font-size="28.30" letter-spacing="0.00">t</text>
<text id="yg7" transform="translate(28.75 307.20) rotate(-90) scale(1.1927 1.0450)" font-size="28.30" letter-spacing="0.00">u</text>
<text id="yg8" transform="translate(28.75 287.52) rotate(-90) scale(1.3332 1.0450)" font-size="28.30" letter-spacing="0.00">r</text>
<text id="yg9" transform="translate(28.75 272.41) rotate(-90) scale(1.1630 1.0450)" font-size="28.30" letter-spacing="0.00">e</text>
<text id="yt1" transform="translate(28.17 241.56) rotate(-90) scale(0.8736 1.1133)" font-size="28.30" letter-spacing="0.00">(</text>
<text id="yt2" transform="translate(28.75 230.56) rotate(-90) scale(0.8052 1.0450)" font-size="28.30" letter-spacing="0.00">K</text>
<text id="yt3" transform="translate(28.17 211.51) rotate(-90) scale(0.8748 1.1133)" font-size="28.30" letter-spacing="0.00">)</text>
<text id="lg0z" transform="translate(522.10 477.80) scale(0.9409 1.0000)" font-size="28.30" letter-spacing="0.00">Z</text>
<text id="lg0e" transform="translate(540.11 478.80) scale(1.1635 1.0000)" font-size="28.30" letter-spacing="0.00">=</text>
<text id="lg0d0" transform="translate(562.73 477.80) scale(0.8559 1.0000)" font-size="28.30" letter-spacing="0.00">1</text>
<text id="lg0d1" transform="translate(577.48 477.80) scale(1.1551 1.0000)" font-size="28.30" letter-spacing="0.00">0</text>
<text id="lg0d2" transform="translate(593.98 477.80) scale(1.1544 1.0000)" font-size="28.30" letter-spacing="0.00">0</text>
<text id="lg1z" transform="translate(522.10 513.30) scale(0.9409 1.0000)" font-size="28.30" letter-spacing="0.00">Z</text>
<text id="lg1e" transform="translate(540.11 514.30) scale(1.1635 1.0000)" font-size="28.30" letter-spacing="0.00">=</text>
<text id="lg1d0" transform="translate(562.73 513.30) scale(0.8559 1.0000)" font-size="28.30" letter-spacing="0.00">1</text>
<text id="lg1d1" transform="translate(577.48 513.30) scale(1.1551 1.0000)" font-size="28.30" letter-spacing="0.00">0</text>
<text id="lg1d2" transform="translate(593.98 513.30) scale(1.1544 1.0000)" font-size="28.30" letter-spacing="0.00">0</text>
<text id="lg1d3" transform="translate(610.19 513.30) scale(1.1920 1.0000)" font-size="28.30" letter-spacing="0.00">0</text>
<text id="lg2z" transform="translate(522.10 549.10) scale(0.9409 1.0000)" font-size="28.30" letter-spacing="0.00">Z</text>
<text id="lg2e" transform="translate(540.11 550.10) scale(1.1635 1.0000)" font-size="28.30" letter-spacing="0.00">=</text>
<text id="lg2d0" transform="translate(562.73 549.10) scale(0.8559 1.0000)" font-size="28.30" letter-spacing="0.00">1</text>
<text id="lg2d1" transform="translate(577.48 549.10) scale(1.1551 1.0000)" font-size="28.30" letter-spacing="0.00">0</text>
<text id="lg2s" transform="translate(593.92 536.30) scale(1.1729 1.0000)" font-size="17.60" letter-spacing="0.00">4</text>
</svg></body></html>
